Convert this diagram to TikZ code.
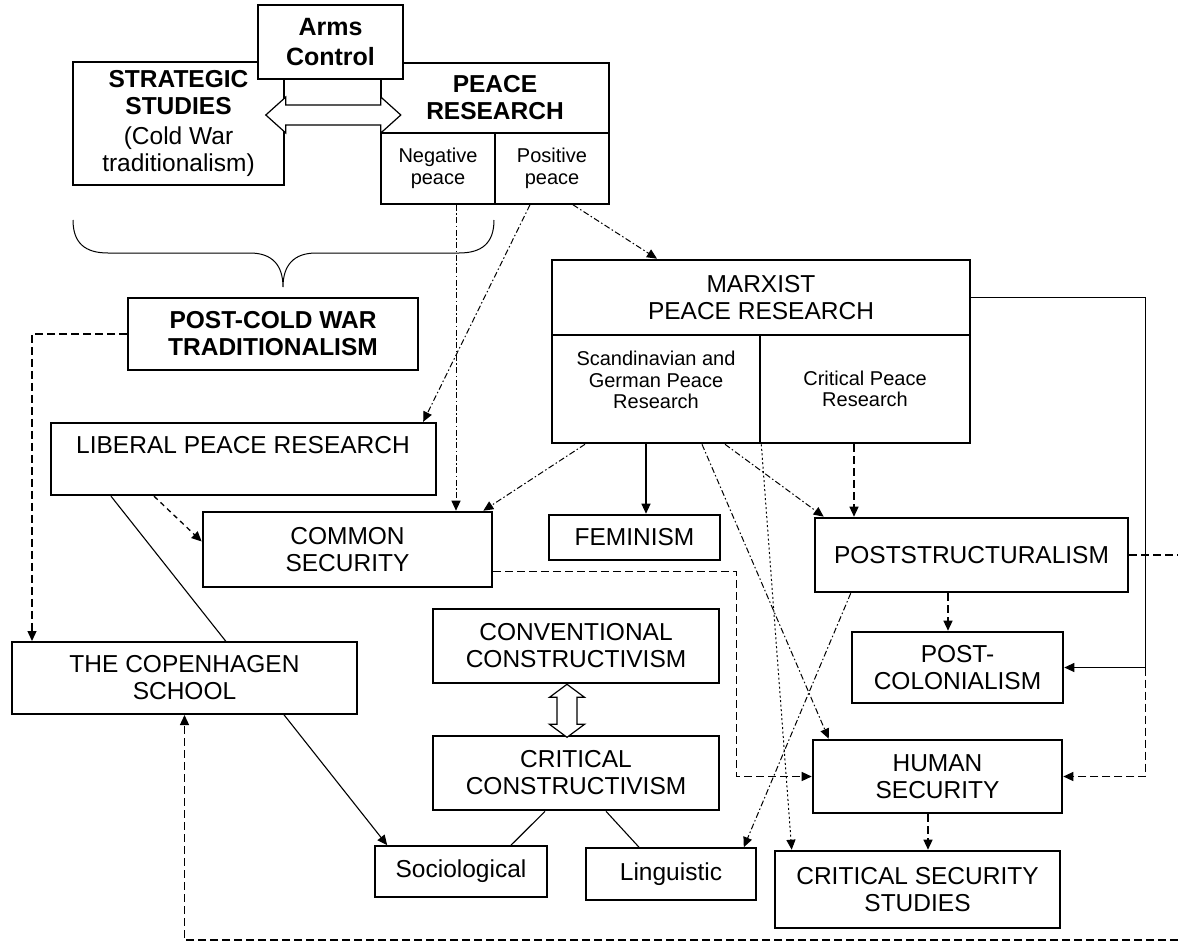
\documentclass[tikz,border=0pt]{standalone}
\usepackage{fontspec}
\setmainfont{Liberation Sans}
\usetikzlibrary{arrows.meta,calc}
\newcommand\mfs{\fontsize{24.5}{27}\selectfont}
\newcommand\sfs{\fontsize{20}{21.5}\selectfont}
\begin{document}
\begin{tikzpicture}[x=1pt,y=-1pt,
  bx/.style={draw, fill=white, inner sep=0pt, align=center, line width=1.6pt, font=\mfs},
  tbx/.style={bx, line width=2.6pt},
  thinl/.style={line width=1.1pt},
  dashl/.style={line width=1.3pt, dash pattern=on 8pt off 4pt},
  ddot/.style={line width=1pt, dash pattern=on 6pt off 2.5pt on 1.5pt off 2.5pt},
  dotl/.style={line width=1pt, dash pattern=on 2pt off 2.5pt},
  tip/.style={-{Triangle[length=10pt,width=9pt]}},
  hollow/.style={draw, fill=white, line width=1.2pt, line join=miter}]
\fill[white] (0,0) rectangle (1178,950);
\useasboundingbox (0,0) rectangle (1178,950);

% ---------- top row ----------
\node[bx, minimum width=211pt, minimum height=123pt] (strat) at (178.5,123.5)
  {\textbf{STRATEGIC}\\\textbf{STUDIES}\\[3pt](Cold War\\traditionalism)};
\node[bx, minimum width=228pt, minimum height=70pt, font=\mfs\bfseries] (peace) at (495,98) {PEACE\\RESEARCH};
\node[bx, minimum width=114pt, minimum height=71pt, font=\sfs] (neg) at (438,168.5) {Negative\\peace};
\node[bx, minimum width=114pt, minimum height=71pt, font=\sfs] (pos) at (552,168.5) {Positive\\peace};
\node[bx, minimum width=145pt, minimum height=74pt, font=\fontsize{25}{30}\selectfont\bfseries] (arms) at (330.5,42) {Arms\\Control};

% hollow double arrow strategic <-> peace
\draw[hollow] ($(strat.east)+(-19,-8.5)$) -- ++(20,-18) -- ++(0,8) -- ++(95,0) -- ++(0,-8)
  -- ++(20,18) -- ++(-20,18) -- ++(0,-8) -- ++(-95,0) -- ++(0,8) -- cycle;

% brace
\draw[line width=1pt] (73,220) .. controls (73,243) and (85,253) .. (108,253) -- (250,253)
  .. controls (272,253) and (283,265) .. (283,287)
  .. controls (283,265) and (294,253) .. (316,253) -- (459,253)
  .. controls (482,253) and (494,243) .. (494,220);

\node[bx, minimum width=290pt, minimum height=72pt, font=\mfs\bfseries] (pcw) at (273,334) {POST-COLD WAR\\TRADITIONALISM};

% ---------- left column ----------
\node[tbx, line width=2.4pt, minimum width=385pt, minimum height=72pt] (lib) at (243.5,459) {};
\node[font=\mfs, inner sep=0pt] (libtxt) at (243,445) {LIBERAL PEACE RESEARCH};

\node[bx, minimum width=172pt, minimum height=51pt] (socio) at (461,871.5) {Sociological};
\node[bx, minimum width=170pt, minimum height=52pt] (ling) at (671,874) {Linguistic};

\draw[thinl, tip] ($(lib.south)+(-132.5,0)$) -- ($(socio.north west)+(13,0)$);

\node[bx, line width=2pt, minimum width=345pt, minimum height=72pt] (copen) at (184.5,678) {THE COPENHAGEN\\SCHOOL};
\node[tbx, minimum width=289pt, minimum height=75pt] (common) at (347.5,549.5) {COMMON\\SECURITY};

% ---------- Marxist ----------
\node[tbx, minimum width=418pt, minimum height=75pt] (marx) at (761,297.5) {MARXIST\\PEACE RESEARCH};
\node[tbx, minimum width=208pt, minimum height=108pt] (scand) at (656,389) {};
\node[font=\sfs, align=center, inner sep=0pt] (scandtxt) at (656,380) {Scandinavian and\\German Peace\\Research};
\node[tbx, minimum width=210pt, minimum height=108pt, font=\sfs] (crit) at (865,389) {Critical Peace\\Research};

\node[tbx, minimum width=171pt, minimum height=45pt] (fem) at (634.5,537.5) {FEMINISM};
\node[tbx, minimum width=313pt, minimum height=74pt] (post) at (971.5,555) {POSTSTRUCTURALISM};
\node[tbx, minimum width=211pt, minimum height=71pt] (pcol) at (957.5,667.5) {POST-\\COLONIALISM};
\node[tbx, minimum width=286pt, minimum height=74pt] (conv) at (576,646) {CONVENTIONAL\\CONSTRUCTIVISM};
\node[tbx, minimum width=286pt, minimum height=74pt] (critc) at (576,773) {CRITICAL\\CONSTRUCTIVISM};
\node[tbx, minimum width=249pt, minimum height=73pt] (human) at (937.5,776.5) {HUMAN\\SECURITY};
\node[tbx, minimum width=285pt, minimum height=77pt] (css) at (917.5,889.5) {CRITICAL SECURITY\\STUDIES};

% hollow double arrow conventional <-> critical
\draw[hollow] ($(conv.south)+(-9,0)$) -- ++(17.5,13) -- ++(-7.5,0) -- ++(0,27) -- ++(7.5,0)
  -- ++(-17.5,13) -- ++(-17.5,-13) -- ++(7.5,0) -- ++(0,-27) -- ++(-7.5,0) -- cycle;

\coordinate (redge) at (1178,555);
\coordinate (bedge) at (1178,940);

% ---------- connectors ----------
\draw[ddot, tip] ($(pos.south)+(21,0)$) -- ($(marx.north)+(-104,0)$);
\draw[ddot, tip] ($(pos.south)+(-22,0)$) -- ($(lib.north east)+(-14,0)$);
\draw[ddot, tip] ($(neg.south)+(18,0)$) -- ($(common.north)+(108.5,0)$);
\draw[dashl, tip] (pcw.west) -| ($(copen.north west)+(21,0)$);
\draw[dashl, dash pattern=on 5pt off 4pt, tip] ($(lib.south)+(-89.5,0)$) -- ($(common.west)+(0,-8)$);
\draw[ddot, tip] ($(scand.south)+(-71,0)$) -- ($(common.north east)+(-10,0)$);
\draw[thinl, tip] ($(scand.south)+(-10,0)$) -- ($(fem.north)+(11.5,0)$);
\draw[ddot, tip] ($(scand.south)+(46,0)$) -- ($(human.north west)+(17,0)$);
\draw[ddot, tip] ($(scand.south)+(69,0)$) -- ($(post.north west)+(10,0)$);
\draw[dotl, tip] (scand.south east) -- ($(css.north west)+(18,0)$);
\draw[dashl, tip] ($(crit.south)+(-11,0)$) -- ($(post.north)+(-117.5,0)$);
\draw[dashl, tip] ($(post.south)+(-23.5,0)$) -- ($(pcol.north)+(-9.5,0)$);
\draw[ddot, tip] ($(post.south west)+(37,0)$) -- ($(ling.north east)+(-13,0)$);
\draw[dashl] (post.east) -- (redge);
\draw[thinl, tip] (marx.east) -- ++(174,0) |- (pcol.east);
\draw[dashl, tip] ($(marx.east)+(174,370)$) |- (human.east);
\draw[dashl, tip] ($(human.south)+(-9.5,0)$) -- ($(css.north)+(10.5,0)$);
\draw[dashl, tip] ($(common.east)+(0,22)$) -| ($(human.west)+(-75,0)$) -- (human.west);
\draw[thinl] ($(critc.south)+(-31,0)$) -- ($(socio.north)+(50,0)$);
\draw[thinl] ($(critc.south)+(30,0)$) -- ($(ling.north)+(-32,0)$);
\draw[dashl, tip] (bedge) -| (copen.south);
\end{tikzpicture}
\end{document}
